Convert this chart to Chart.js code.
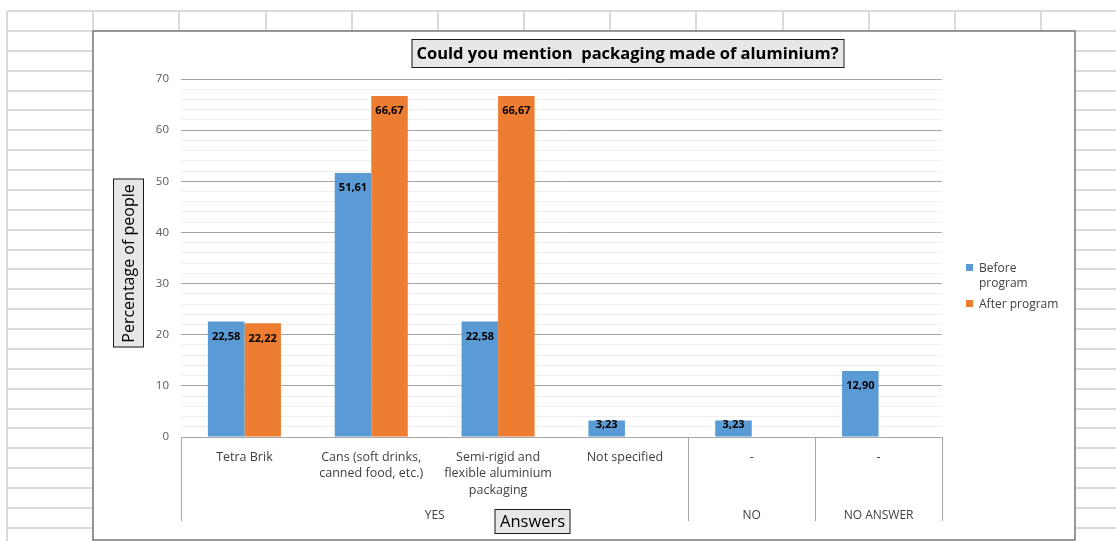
<!DOCTYPE html>
<html>
<head>
<meta charset="utf-8">
<title>Could you mention packaging made of aluminium?</title>
<script src="https://cdn.jsdelivr.net/npm/chart.js@4.4.0/dist/chart.umd.min.js"></script>
<style>
    html, body { margin: 0; padding: 0; background: #fff; }
    body { width: 1116px; height: 541px; position: relative; overflow: hidden; }
    #sheet { position: absolute; left: 0; top: 0; }
    #chartBox { position: absolute; left: 93px; top: 31px; width: 982px; height: 509px; }
</style>
</head>
<body>
<canvas id="sheet" width="1116" height="541"></canvas>
<div id="chartBox"><canvas id="aluChart"></canvas></div>
<script>
// =======================================================
// DADOS
// =======================================================
const categories = [
    'Tetra Brik',
    ['Cans (soft drinks,', 'canned food, etc.)'],
    ['Semi-rigid and', 'flexible aluminium', 'packaging'],
    'Not specified',
    '-',
    '-'
];
const groupLabels = ['YES', 'NO', 'NO ANSWER'];
const groupSizes = [4, 1, 1];
const seriesNames = ['Before program', 'After program'];
const beforeProgram = [22.58, 51.61, 22.58, 3.23, 3.23, 12.90];
const afterProgram = [22.22, 66.67, 66.67, null, null, null];
const yTickLabels = [0, 10, 20, 30, 40, 50, 60, 70];

const chartTitle = 'Could you mention  packaging made of aluminium?';
const yTitle = 'Percentage of people';
const xTitle = 'Answers';

const FONT = '"Open Sans", sans-serif';

// =======================================================
// FUNDO (folha de cálculo)
// =======================================================
function drawSheet() {
    const c = document.getElementById('sheet');
    const ctx = c.getContext('2d');
    ctx.fillStyle = '#fff';
    ctx.fillRect(0, 0, c.width, c.height);
    ctx.strokeStyle = '#dadada';
    ctx.lineWidth = 2;
    for (let x = 7; x < c.width; x += 86.17) {
        ctx.beginPath();
        ctx.moveTo(Math.round(x), 11);
        ctx.lineTo(Math.round(x), c.height);
        ctx.stroke();
    }
    for (let y = 11; y < c.height; y += 19.88) {
        ctx.beginPath();
        ctx.moveTo(7, Math.round(y));
        ctx.lineTo(c.width, Math.round(y));
        ctx.stroke();
    }
    // caixa do gráfico
    ctx.fillStyle = '#fff';
    ctx.fillRect(93, 31, 982, 509);
    ctx.strokeStyle = '#7a7a7a';
    ctx.lineWidth = 1.5;
    ctx.strokeRect(93, 31, 982, 509);
}

// =======================================================
// PLUGINS
// =======================================================
function boxedText(ctx, text, cx, cy, font, h, rotate) {
    ctx.save();
    ctx.translate(cx, cy);
    if (rotate) ctx.rotate(-Math.PI / 2);
    ctx.font = font;
    const w = ctx.measureText(text).width + 10;
    ctx.fillStyle = '#e7e7e7';
    ctx.fillRect(-w / 2, -h / 2, w, h);
    ctx.strokeStyle = '#1a1a1a';
    ctx.lineWidth = 1;
    ctx.strokeRect(Math.round(-w / 2) + 0.5, Math.round(-h / 2) + 0.5, Math.round(w), Math.round(h));
    ctx.fillStyle = '#000';
    ctx.textAlign = 'center';
    ctx.textBaseline = 'middle';
    ctx.fillText(text, 0, 1);
    ctx.restore();
}

const valueLabels = {
    id: 'valueLabels',
    afterDatasetsDraw(chart) {
        const ctx = chart.ctx;
        ctx.save();
        ctx.font = 'bold 11px ' + FONT;
        ctx.fillStyle = '#000';
        ctx.textAlign = 'center';
        ctx.textBaseline = 'middle';
        chart.data.datasets.forEach((ds, i) => {
            chart.getDatasetMeta(i).data.forEach((bar, j) => {
                const v = ds.data[j];
                if (v == null) return;
                const h = bar.base - bar.y;
                const off = Math.max(4, Math.min(15, h - 12));
                ctx.fillText(v.toFixed(2).replace('.', ','), bar.x, bar.y + off);
            });
        });
        ctx.restore();
    }
};

const excelExtras = {
    id: 'excelExtras',
    afterDraw(chart) {
        const ctx = chart.ctx;
        const area = chart.chartArea;
        const catW = (area.right - area.left) / categories.length;

        // separadores e rótulos de grupo
        ctx.save();
        ctx.strokeStyle = '#a6a6a6';
        ctx.lineWidth = 1;
        ctx.font = '12px ' + FONT;
        ctx.fillStyle = '#404040';
        ctx.textAlign = 'center';
        ctx.textBaseline = 'middle';
        let idx = 0;
        const edges = [0];
        groupSizes.forEach(n => { idx += n; edges.push(idx); });
        edges.forEach(k => {
            const x = Math.round(area.left + k * catW) + 0.5;
            ctx.beginPath();
            ctx.moveTo(x, area.bottom);
            ctx.lineTo(x, area.bottom + 84);
            ctx.stroke();
        });
        groupLabels.forEach((g, i) => {
            const cx = area.left + (edges[i] + edges[i + 1]) / 2 * catW;
            ctx.fillText(g, cx, area.bottom + 79);
        });
        ctx.restore();

        // legenda
        ctx.save();
        ctx.font = '12px ' + FONT;
        ctx.textBaseline = 'middle';
        let y = 237;
        chart.data.datasets.forEach(ds => {
            ctx.fillStyle = ds.backgroundColor;
            ctx.fillRect(873, y - 4, 7, 7);
            ctx.fillStyle = '#404040';
            const words = ds.label.split(' ');
            let line = '';
            const lines = [];
            words.forEach(wd => {
                const test = line ? line + ' ' + wd : wd;
                if (ctx.measureText(test).width > 86 && line) { lines.push(line); line = wd; }
                else line = test;
            });
            lines.push(line);
            lines.forEach((l, k) => ctx.fillText(l, 886, y + 1 + k * 15));
            y += lines.length * 15 + 6;
        });
        ctx.restore();

        // títulos
        boxedText(ctx, chartTitle, 534.5, 22, 'bold 16.5px ' + FONT, 28, false);
        boxedText(ctx, yTitle, 35, 232.5, '16px ' + FONT, 30, true);
        boxedText(ctx, xTitle, 439.5, 490, '16.5px ' + FONT, 24, false);
    }
};

// =======================================================
// GRÁFICO
// =======================================================
function renderChart() {
    const ctx = document.getElementById('aluChart');
    new Chart(ctx, {
        type: 'bar',
        data: {
            labels: categories,
            datasets: [{
                label: seriesNames[0],
                data: beforeProgram,
                backgroundColor: '#5b9bd5'
            }, {
                label: seriesNames[1],
                data: afterProgram,
                backgroundColor: '#ed7d31'
            }]
        },
        options: {
            responsive: true,
            maintainAspectRatio: false,
            animation: false,
            categoryPercentage: 0.576,
            barPercentage: 1,
            layout: { padding: { left: 0, right: 133, top: 48, bottom: 0 } },
            scales: {
                x: {
                    grid: { display: false },
                    border: { display: true, color: '#a6a6a6' },
                    ticks: {
                        autoSkip: false, maxRotation: 0, minRotation: 0,
                        padding: 4, color: '#404040',
                        font: { family: FONT, size: 12.5, lineHeight: 1.32 }
                    },
                    afterFit: s => { s.height = 103; }
                },
                y: {
                    min: 0, max: 70,
                    border: { display: false },
                    grid: {
                        drawTicks: false,
                        color: c => yTickLabels.includes(c.tick.value) ? '#a6a6a6' : '#efefef'
                    },
                    ticks: {
                        stepSize: 2, autoSkip: false, padding: 12, color: '#595959',
                        font: { family: FONT, size: 11.5 },
                        callback: v => yTickLabels.includes(v) ? v : ''
                    },
                    afterFit: s => { s.width = 88; }
                }
            },
            plugins: {
                legend: { display: false },
                tooltip: { enabled: false }
            }
        },
        plugins: [valueLabels, excelExtras]
    });
}

drawSheet();
renderChart();
</script>
</body>
</html>
